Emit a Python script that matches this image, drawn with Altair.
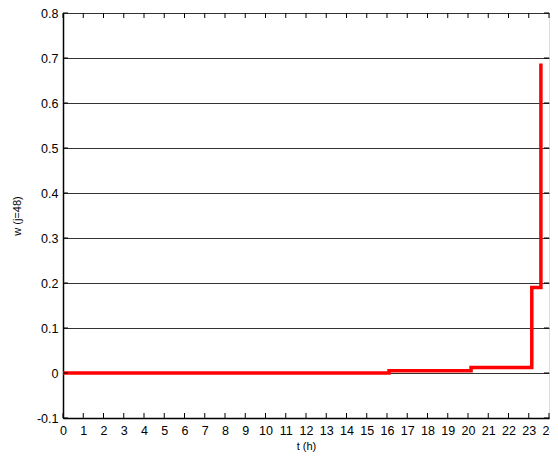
import altair as alt
import pandas as pd

# Step data (step-after)
t_vals = [0, 16.1, 20.15, 23.15, 23.6]
w_vals = [0, 0.005, 0.012, 0.19, 0.688]

x_ticks = list(range(0, 25))
y_ticks = [-0.1, 0, 0.1, 0.2, 0.3, 0.4, 0.5, 0.6, 0.7, 0.8]

W, H = 486, 405
FONT = "Liberation Sans"

df = pd.DataFrame({"t": t_vals, "w": w_vals})
xt = pd.DataFrame({"t": x_ticks})
yt = pd.DataFrame({"w": y_ticks})

xs = alt.Scale(domain=[0, 24], nice=False, zero=False)
ys = alt.Scale(domain=[-0.1, 0.8], nice=False, zero=False)

x_axis = alt.Axis(values=x_ticks, tickSize=0, labelPadding=6, grid=False,
                  domain=True, domainColor="#000", domainWidth=1.5,
                  labelOverlap=False, labelBound=False,
                  labelFont=FONT, labelFontSize=12.5, labelColor="#000",
                  titleFont=FONT, titleFontSize=11, titleFontWeight="normal",
                  titleColor="#000", titlePadding=4, labelFlush=False)
y_axis = alt.Axis(values=y_ticks, tickSize=0, labelPadding=5, grid=True,
                  gridColor="#333", gridWidth=1,
                  domain=True, domainColor="#000", domainWidth=1.5,
                  labelOverlap=False,
                  labelFont=FONT, labelFontSize=12.5, labelColor="#000",
                  titleFont=FONT, titleFontSize=11, titleFontWeight="normal",
                  titleColor="#000", titlePadding=14, labelFlush=False,
                  labelExpr="toString(round(datum.value*10)/10)")

X = lambda: alt.X("t:Q", scale=xs, title="t (h)", axis=x_axis)
Y = lambda: alt.Y("w:Q", scale=ys, title="w (j=48)", axis=y_axis)

line = alt.Chart(df).mark_line(color="#ff0000", strokeWidth=3.5, interpolate="step-after").encode(
    x=X(), y=Y())

tick_bot = alt.Chart(xt).mark_rule(color="#000", strokeWidth=1).encode(
    x=X(), y=alt.value(H), y2=alt.value(H - 5))
tick_top = alt.Chart(xt).mark_rule(color="#000", strokeWidth=1).encode(
    x=X(), y=alt.value(0), y2=alt.value(5))
tick_left = alt.Chart(yt).mark_rule(color="#000", strokeWidth=1).encode(
    y=Y(), x=alt.value(0), x2=alt.value(5))
tick_right = alt.Chart(yt).mark_rule(color="#000", strokeWidth=1).encode(
    y=Y(), x=alt.value(W - 5), x2=alt.value(W))

chart = alt.layer(line, tick_bot, tick_top, tick_left, tick_right).properties(
    width=W, height=H,
    autosize=alt.AutoSizeParams(type="none"),
    padding={"left": 55, "top": 5, "right": 1, "bottom": 40},
).configure_axis(labelOverlap=False).configure_view(stroke="#000", strokeWidth=1.5).configure(background="white")

chart.save("out.html", embed_options={"renderer": "svg", "actions": False})
